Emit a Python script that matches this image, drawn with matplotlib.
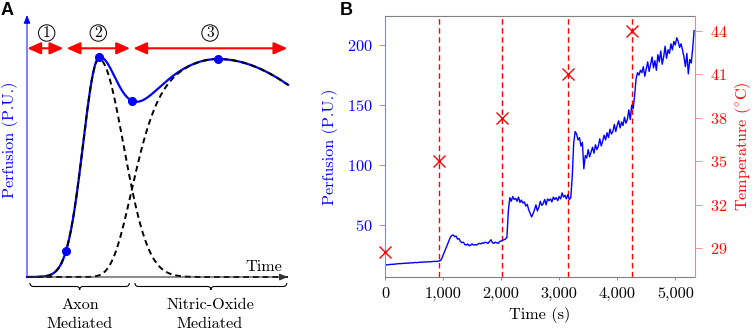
import numpy as np
import matplotlib
matplotlib.use("Agg")  # headless, no display
import matplotlib.pyplot as plt
from matplotlib.patches import Circle, PathPatch
from matplotlib.path import Path
from matplotlib.ticker import FuncFormatter

plt.rcParams["font.family"] = ["cmr10", "DejaVu Serif"]
plt.rcParams["axes.formatter.use_mathtext"] = True
plt.rcParams["mathtext.fontset"] = "cm"
FS = 11.7

# ---- panel A: schematic response (peak position, height, widths)
axon_peak, axon_height, axon_width = 72.0, 218.0, (16.0, 24.5)
nitric_peak, nitric_height = 190.7, 218.0
nitric_rise_width, nitric_rise_edge, nitric_fall_width = 112.0, 93.0, 140.0
marker_x = [39.0, 72.0, 104.7, 190.7]
phase_names = ["1", "2", "3"]
mech_names = [("Axon", "Mediated"), ("Nitric-Oxide", "Mediated")]

# ---- panel B: measured perfusion (25 s samples) and temperature steps
sample_step_s = 25
perfusion = [
    17.0, 17.2, 17.1, 17.4, 17.5, 17.6, 17.5, 17.8, 17.9, 18.0,
    18.2, 18.1, 18.3, 18.4, 18.3, 18.6, 18.5, 18.7, 18.8, 18.7,
    19.0, 19.1, 18.9, 19.2, 19.3, 19.2, 19.4, 19.5, 19.4, 19.6,
    19.7, 19.6, 19.8, 19.9, 20.0, 19.9, 20.1, 20.2, 20.5, 22.0,
    25.0, 28.0, 31.0, 34.0, 37.0, 40.0, 41.5, 42.0, 40.5, 41.0,
    38.5, 39.0, 36.5, 35.5, 36.0, 34.0, 33.5, 34.5, 33.0, 33.5,
    34.5, 33.5, 34.0, 33.5, 34.5, 35.0, 34.5, 35.5, 35.0, 36.0,
    35.5, 35.0, 36.5, 38.0, 35.5, 35.0, 36.0, 35.5, 35.0, 36.5,
    37.0, 37.5, 38.0, 38.5, 40.0, 62.0, 73.0, 70.0, 74.0, 71.5,
    72.5, 70.0, 73.5, 69.0, 71.0, 68.5, 69.5, 66.0, 67.5, 63.0,
    60.0, 57.0, 59.5, 63.0, 67.0, 62.0, 65.0, 70.0, 66.5, 68.0,
    71.5, 67.0, 72.0, 70.5, 72.0, 69.5, 73.5, 71.5, 73.0, 70.5,
    74.0, 72.0, 77.0, 73.5, 75.0, 72.0, 75.5, 71.5, 73.0, 90.0,
    118.0, 128.0, 126.0, 121.0, 123.0, 116.0, 119.0, 97.0,
    108.0, 106.0, 113.0, 107.0, 111.0, 115.0, 110.0, 117.0, 113.0, 116.0,
    122.0, 116.0, 120.0, 125.0, 121.0, 127.0, 123.0, 130.0, 126.0, 128.0,
    134.0, 128.0, 133.0, 137.0, 131.0, 136.0, 133.0, 140.0, 135.0, 138.0,
    146.0, 138.0, 150.0, 147.0, 158.0, 172.0, 177.0, 175.0, 179.0, 177.0,
    182.0, 174.0, 180.0, 186.0, 178.0, 184.0, 190.0, 181.0, 187.0, 179.0,
    192.0, 186.0, 195.0, 184.0, 190.0, 199.0, 189.0, 196.0, 193.0, 201.0,
    196.0, 203.0, 200.0, 206.0, 203.0, 198.0, 201.0, 196.0, 190.0, 182.0,
    193.0, 176.0, 188.0, 185.0, 197.0, 212.0,
]
time_s = np.arange(len(perfusion)) * sample_step_s
temp_time = [0, 926, 2022, 3144, 4253]
temp_c = [28.7, 35.0, 38.0, 41.0, 44.0]
perf_ticks = [50, 100, 150, 200]
temp_ticks = [29, 32, 35, 38, 41, 44]
time_ticks = [0, 1000, 2000, 3000, 4000, 5000]


def axon(x):
    d = x - axon_peak
    w = np.where(d < 0, axon_width[0], axon_width[1])
    return axon_height * np.exp(-0.5 * (d / w) ** 2)


def nitric(x):
    d = x - nitric_peak
    left = np.exp(-0.5 * (d / nitric_rise_width) ** 2 - (d / nitric_rise_edge) ** 6)
    right = np.exp(-0.5 * (d / nitric_fall_width) ** 2)
    return nitric_height * np.where(d < 0, left, right)


def brace(ax, x0, x1, y, h):
    xm = (x0 + x1) / 2
    r = h / 2
    verts = [(x0, y), (x0, y - r), (x0 + r, y - r), (xm - r, y - r),
             (xm, y - r), (xm, y - h), (xm, y - r), (xm + r, y - r),
             (x1 - r, y - r), (x1, y - r), (x1, y)]
    codes = [Path.MOVETO, Path.CURVE3, Path.CURVE3, Path.LINETO,
             Path.CURVE3, Path.CURVE3, Path.CURVE3, Path.CURVE3,
             Path.LINETO, Path.CURVE3, Path.CURVE3]
    ax.add_patch(PathPatch(Path(verts, codes), fill=False, lw=0.8,
                           edgecolor="black"))


fig = plt.figure(figsize=(7.54, 3.34), dpi=100)

# ---------------- panel A (data units = pixels) ----------------
axA = fig.add_axes([0, 0, 300 / 754, 1])
axA.set_xlim(-27, 273)
axA.set_ylim(-57, 277)
axA.set_axis_off()

x = np.linspace(0, 261, 800)
total = axon(x) + nitric(x)
axA.plot(x, total, color="#0000ff", lw=1.6, zorder=2)
axA.plot(x, axon(x), color="black", lw=1.4, ls=(0, (3, 2)), zorder=3)
axA.plot(x, nitric(x), color="black", lw=1.4, ls=(0, (3, 2)), zorder=3)
mx = np.array(marker_x)
axA.plot(mx, axon(mx) + nitric(mx), "o", color="#0000ff", ms=5.5, zorder=4)

# axes arrows
axA.annotate("", xy=(0, 262), xytext=(0, 0),
             arrowprops=dict(arrowstyle="-|>,head_length=0.5,head_width=0.2",
                             color="#0000ff", lw=0.7, shrinkA=0, shrinkB=0))
axA.annotate("", xy=(261, 0), xytext=(0, 0),
             arrowprops=dict(arrowstyle="-|>,head_length=0.5,head_width=0.2",
                             color="#333333", lw=0.8, shrinkA=0, shrinkB=0))
axA.text(255, 6, "Time", ha="right", va="baseline", fontsize=FS)
axA.text(-17, 137, "Perfusion (P.U.)", rotation=90, ha="center", va="center",
         color="#0000ff", fontsize=FS)

# phase arrows with circled numbers
phase_spans = [(0.3, 36.3), (39.7, 103.0), (106.3, 260.3)]
phase_label_x = [19.7, 71.3, 183.0]
for name, (x0, x1), lx in zip(phase_names, phase_spans, phase_label_x):
    axA.annotate("", xy=(x1, 228.7), xytext=(x0, 228.7),
                 arrowprops=dict(arrowstyle="<|-|>,head_length=0.45,head_width=0.2",
                                 color="red", lw=1.5, mutation_scale=18,
                                 shrinkA=0, shrinkB=0))
    axA.add_patch(Circle((lx, 244), 8.2, fill=False, lw=0.7, edgecolor="black"))
    axA.text(lx, 244, name, ha="center", va="center", fontsize=FS - 0.5)

# braces and mechanism labels
mech_spans = [(3, 102.3), (108, 259.7)]
mech_x = [53, 183]
for (l1, l2), (x0, x1), lx in zip(mech_names, mech_spans, mech_x):
    brace(axA, x0, x1, -6, 7)
    axA.text(lx, -28, l1, ha="center", va="center", fontsize=FS)
    axA.text(lx, -47, l2, ha="center", va="center", fontsize=FS)

# ---------------- panel B ----------------
axB = fig.add_axes([385 / 754, 57 / 334, 310 / 754, 261.3 / 334])
for t in temp_time[1:]:
    axB.axvline(t, color="red", lw=1.0, ls=(0, (4, 2.5)), zorder=1)
axB.plot(time_s, perfusion, color="#0000ff", lw=1.0, zorder=2)
axB.set_xlim(0, 5340)
axB.set_ylim(7, 224.4)
axB.set_xticks(time_ticks)
axB.xaxis.set_major_formatter(FuncFormatter(lambda v, p: f"{v:,.0f}"))
axB.set_yticks(perf_ticks)
axB.set_xlabel("Time (s)", fontsize=FS, labelpad=4)
axB.set_ylabel("Perfusion (P.U.)", fontsize=FS, color="#0000ff", labelpad=6)
axB.tick_params(axis="y", colors="#0000ff", labelsize=FS, length=4, width=0.6,
                direction="out", pad=5)
axB.tick_params(axis="y", color="#8080ff")
axB.tick_params(axis="x", labelsize=FS, length=2.5, width=0.6, color="#808080",
                direction="out", pad=5)
axB.spines["left"].set_color("#8080ff")
axB.spines["right"].set_visible(False)
for s in ("top", "bottom"):
    axB.spines[s].set_color("#808080")
    axB.spines[s].set_linewidth(0.8)

ax2 = axB.twinx()
ax2.plot(temp_time, temp_c, "x", color="red", ms=8, mew=1.0, clip_on=False,
         zorder=3)
ax2.set_ylim(27.0, 45.05)
ax2.set_yticks(temp_ticks)
ax2.set_ylabel(r"Temperature ($^{\circ}$C)", fontsize=FS, color="red",
               labelpad=4)
ax2.tick_params(axis="y", colors="red", labelsize=FS, length=4.8, width=0.6,
                direction="out", pad=6)
ax2.tick_params(axis="y", color="#ff8080")
ax2.spines["right"].set_color("#ff8080")
for s in ("top", "bottom", "left"):
    ax2.spines[s].set_visible(False)

fig.text(0.001, 0.995, "A", family="Liberation Sans", fontweight="bold",
         fontsize=13, va="top", ha="left")
fig.text(340 / 754, 0.995, "B", family="Liberation Sans", fontweight="bold",
         fontsize=13, va="top", ha="left")

fig.savefig("out.png", dpi=100)
plt.close(fig)
